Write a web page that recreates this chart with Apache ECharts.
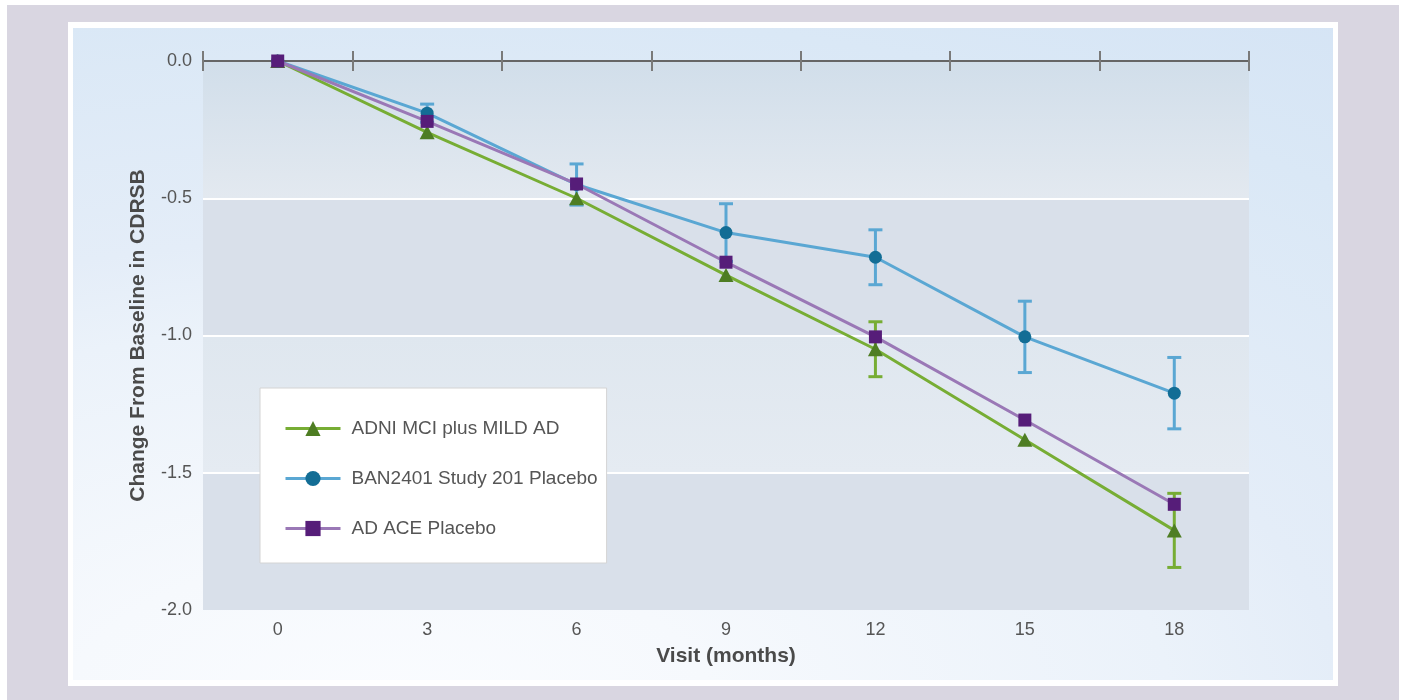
<!DOCTYPE html>
<html>
<head>
<meta charset="utf-8">
<script src="https://cdn.jsdelivr.net/npm/echarts@6/dist/echarts.min.js"></script>
<style>
  html, body { margin: 0; padding: 0; background: #ffffff; }
  #chart { width: 1403px; height: 700px; }
</style>
</head>
<body>
<div id="chart"></div>
<script>
// Visit months (category axis)
const months = ['0', '3', '6', '9', '12', '15', '18'];

// Mean change from baseline in CDR-SB
const adniMean = [0, -0.26, -0.50, -0.78, -1.05, -1.38, -1.71];
const banMean  = [0, -0.19, -0.45, -0.625, -0.715, -1.005, -1.21];
const aceMean  = [0, -0.22, -0.448, -0.733, -1.005, -1.308, -1.615];

// Error bar half-widths (null = no bar drawn)
const adniErr = [null, null, null, null, 0.10, null, 0.135];
const banErr  = [null, 0.033, 0.075, 0.105, 0.10, 0.13, 0.13];

const seriesNames = ['ADNI MCI plus MILD AD', 'BAN2401 Study 201 Placebo', 'AD ACE Placebo'];

const baseFont = "'Liberation Sans', Arial, sans-serif";

const chart = echarts.init(document.getElementById('chart'), null, { renderer: 'canvas' });

function errData(mean, err) {
  const out = [];
  mean.forEach((m, i) => { if (err[i] != null) out.push([i, m, err[i]]); });
  return out;
}

function errorBarSeries(name, mean, err, color) {
  return {
    type: 'custom',
    name: name + ' SE',
    xAxisIndex: 2,
    z: 1,
    silent: true,
    data: errData(mean, err),
    renderItem: function (params, api) {
      const i = api.value(0), m = api.value(1), e = api.value(2);
      const top = api.coord([i, m + e]);
      const bot = api.coord([i, m - e]);
      const cap = 7;
      const style = { stroke: color, lineWidth: 3, fill: null };
      return {
        type: 'group',
        children: [
          { type: 'line', shape: { x1: top[0], y1: top[1], x2: bot[0], y2: bot[1] }, style: style },
          { type: 'line', shape: { x1: top[0] - cap, y1: top[1], x2: top[0] + cap, y2: top[1] }, style: style },
          { type: 'line', shape: { x1: bot[0] - cap, y1: bot[1], x2: bot[0] + cap, y2: bot[1] }, style: style }
        ]
      };
    }
  };
}

const option = {
  animation: false,
  graphic: [
    { type: 'rect', z: -100, shape: { x: 7, y: 5, width: 1392, height: 695 }, style: { fill: '#d9d6e1' } },
    { type: 'rect', z: -99, shape: { x: 68, y: 22, width: 1270, height: 664 }, style: { fill: '#ffffff' } },
    {
      type: 'rect', z: -98, x: 73, y: 28, scaleX: 2,
      shape: { x: 0, y: 0, width: 630, height: 652 },
      style: {
        fill: new echarts.graphic.RadialGradient(0.25, 1.05, 1.35, [
          { offset: 0, color: '#fafcff' },
          { offset: 0.19, color: '#f6f9fd' },
          { offset: 0.46, color: '#ebf2fa' },
          { offset: 0.56, color: '#e4edf8' },
          { offset: 0.83, color: '#dae8f6' },
          { offset: 1, color: '#d5e4f5' }
        ])
      }
    }
  ],
  grid: { left: 203, right: 154, top: 61, bottom: 90, containLabel: false },
  legend: {
    orient: 'vertical',
    left: 260,
    top: 388,
    data: seriesNames,
    backgroundColor: '#ffffff',
    borderColor: '#d4d4d4',
    borderWidth: 1,
    borderRadius: 0,
    padding: [31, 9, 25, 24],
    itemGap: 31,
    itemWidth: 55,
    itemHeight: 19,
    lineStyle: { width: 3 },
    textStyle: { fontFamily: baseFont, fontSize: 19, color: '#555555', padding: [0, 0, 0, 6] }
  },
  xAxis: [
    {
      type: 'category', position: 'top', data: months, boundaryGap: true,
      axisLine: { show: true, onZero: false, lineStyle: { color: '#666666', width: 2 } },
      axisTick: { show: true, length: 10, lineStyle: { color: '#7a7a7a', width: 2 } },
      axisLabel: { show: false }, splitLine: { show: false }
    },
    {
      type: 'category', position: 'top', data: months, boundaryGap: true,
      axisLine: { show: false },
      axisTick: { show: true, inside: true, length: 10, lineStyle: { color: '#7a7a7a', width: 2 } },
      axisLabel: { show: false }, splitLine: { show: false }
    },
    {
      type: 'category', position: 'bottom', data: months, boundaryGap: true,
      axisLine: { show: false }, axisTick: { show: false },
      axisLabel: { show: true, margin: 11, fontFamily: baseFont, fontSize: 18, color: '#555555' },
      name: 'Visit (months)', nameLocation: 'middle', nameGap: 36,
      nameTextStyle: { fontFamily: baseFont, fontSize: 21, fontWeight: 'bold', color: '#4a4a4a' }
    }
  ],
  yAxis: {
    type: 'value', min: -2, max: 0, interval: 0.5,
    axisLine: { show: false }, axisTick: { show: false },
    axisLabel: {
      margin: 11, fontFamily: baseFont, fontSize: 18, color: '#555555',
      formatter: v => v.toFixed(1)
    },
    splitLine: { show: true, showMinLine: false, showMaxLine: false, lineStyle: { color: '#ffffff', width: 2 } },
    splitArea: {
      show: true,
      areaStyle: {
        color: [
          '#d9e0ea',
          new echarts.graphic.LinearGradient(0, 0, 0, 1, [
            { offset: 0, color: '#dfe7ef' }, { offset: 1, color: '#e5ebf2' }
          ]),
          '#d9e0ea',
          new echarts.graphic.LinearGradient(0, 0, 0, 1, [
            { offset: 0, color: '#d1deea' }, { offset: 1, color: '#e3e9f0' }
          ])
        ]
      }
    },
    name: 'Change From Baseline in CDRSB', nameLocation: 'middle', nameGap: 54,
    nameTextStyle: { fontFamily: baseFont, fontSize: 21, fontWeight: 'bold', color: '#4a4a4a' }
  },
  series: [
    errorBarSeries(seriesNames[0], adniMean, adniErr, '#77ad34'),
    errorBarSeries(seriesNames[1], banMean, banErr, '#5aa7d3'),
    {
      name: seriesNames[0], type: 'line', xAxisIndex: 2, data: adniMean, z: 3,
      symbol: 'triangle', symbolSize: [15, 14],
      itemStyle: { color: '#4e7d23' }, lineStyle: { color: '#77ad34', width: 3 }
    },
    {
      name: seriesNames[1], type: 'line', xAxisIndex: 2, data: banMean, z: 4,
      symbol: 'circle', symbolSize: 13,
      itemStyle: { color: '#136d95' }, lineStyle: { color: '#5aa7d3', width: 3 }
    },
    {
      name: seriesNames[2], type: 'line', xAxisIndex: 2, data: aceMean, z: 5,
      symbol: 'rect', symbolSize: 13,
      itemStyle: { color: '#561d79' }, lineStyle: { color: '#9a78b6', width: 3 }
    }
  ]
};

chart.setOption(option);
</script>
</body>
</html>
